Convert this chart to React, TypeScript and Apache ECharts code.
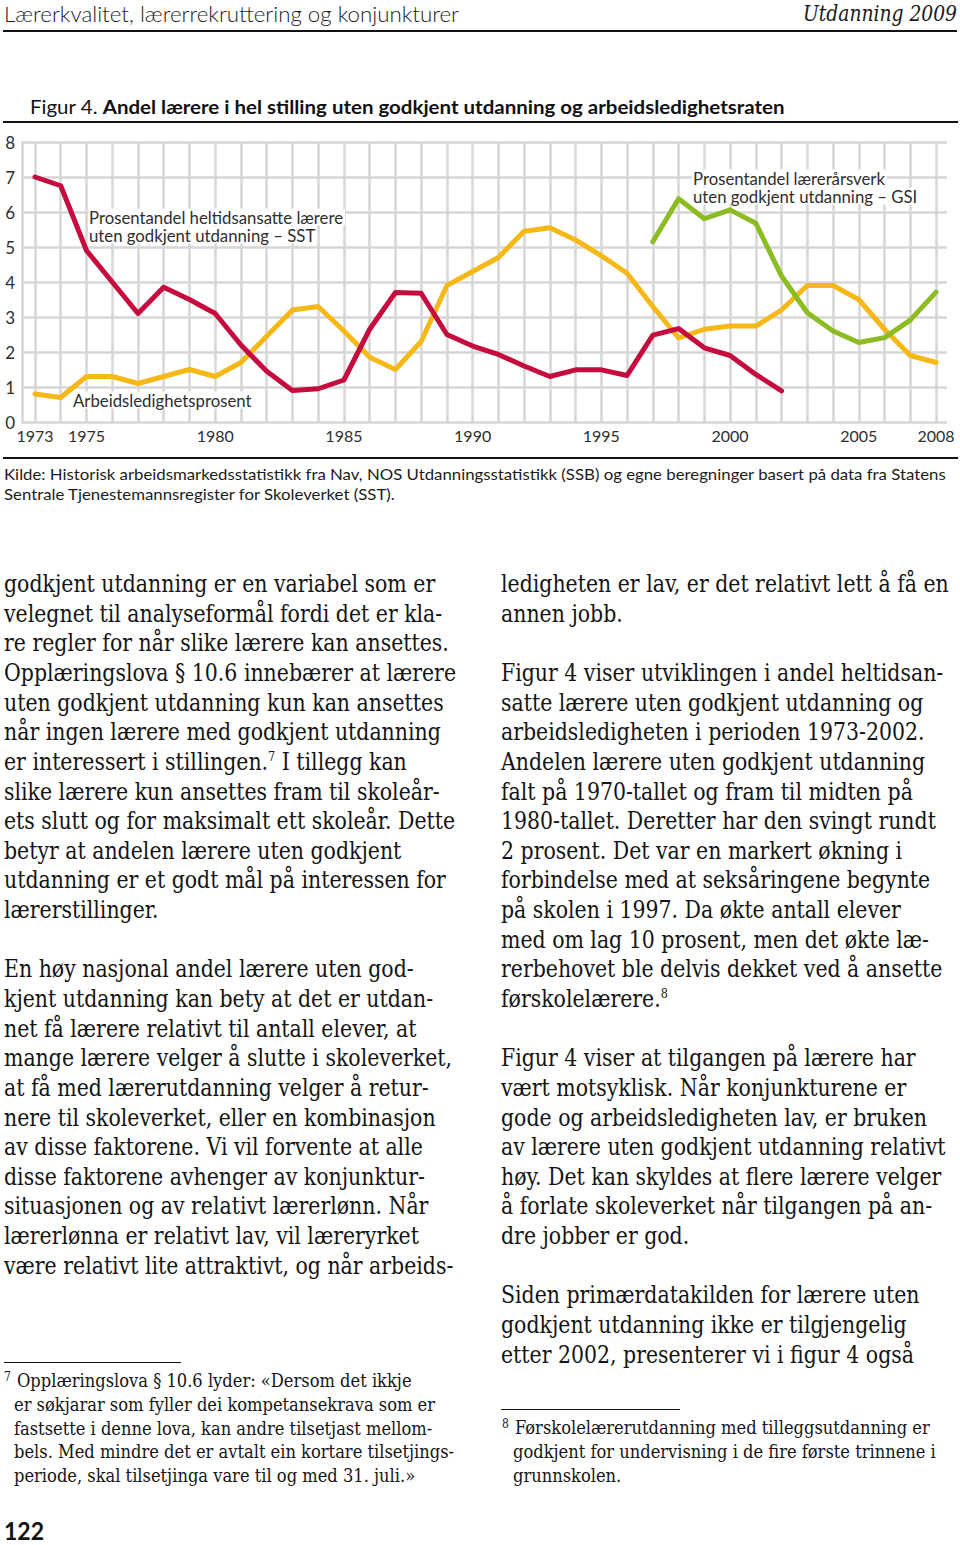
import React, { useEffect, useRef } from "react";
import * as echarts from "echarts";

// ---------- chart data ----------
const sstYears = [1973, 1974, 1975, 1976, 1977, 1978, 1979, 1980, 1981, 1982, 1983, 1984, 1985, 1986, 1987, 1988, 1989, 1990, 1991, 1992, 1993, 1994, 1995, 1996, 1997, 1998, 1999, 2000, 2001, 2002];
const sstValues = [7.0, 6.75, 4.9, 4.0, 3.1, 3.85, 3.5, 3.1, 2.2, 1.45, 0.9, 0.95, 1.2, 2.65, 3.7, 3.68, 2.5, 2.17, 1.93, 1.6, 1.3, 1.49, 1.49, 1.33, 2.48, 2.67, 2.12, 1.9, 1.36, 0.89];

const unempYears = [1973, 1974, 1975, 1976, 1977, 1978, 1979, 1980, 1981, 1982, 1983, 1984, 1985, 1986, 1987, 1988, 1989, 1990, 1991, 1992, 1993, 1994, 1995, 1996, 1997, 1998, 1999, 2000, 2001, 2002, 2003, 2004, 2005, 2006, 2007, 2008];
const unempValues = [0.8, 0.7, 1.3, 1.3, 1.1, 1.3, 1.5, 1.3, 1.7, 2.45, 3.2, 3.3, 2.6, 1.85, 1.5, 2.3, 3.9, 4.3, 4.7, 5.45, 5.55, 5.2, 4.75, 4.25, 3.3, 2.4, 2.65, 2.74, 2.74, 3.2, 3.9, 3.9, 3.5, 2.65, 1.9, 1.7];

const gsiYears = [1997, 1998, 1999, 2000, 2001, 2002, 2003, 2004, 2005, 2006, 2007, 2008];
const gsiValues = [5.15, 6.38, 5.81, 6.06, 5.68, 4.17, 3.12, 2.6, 2.27, 2.41, 2.91, 3.71];

const xTickLabels = [1973, 1975, 1980, 1985, 1990, 1995, 2000, 2005, 2008];
const xMin = 1973;
const xMax = 2008;
const yMin = 0;
const yMax = 8;
const yStep = 1;

const sstLabel = ["Prosentandel heltidsansatte lærere", "uten godkjent utdanning – SST"];
const unempLabel = ["Arbeidsledighetsprosent"];
const gsiLabel = ["Prosentandel lærerårsverk", "uten godkjent utdanning – GSI"];

// ---------- page text ----------
const headerLeft = "Lærerkvalitet, lærerrekruttering og konjunkturer";
const headerRight = "Utdanning 2009";
const figPrefix = "Figur 4. ";
const figTitle = "Andel lærere i hel stilling uten godkjent utdanning og arbeidsledighetsraten";
const sourceLines = [
  "Kilde: Historisk arbeidsmarkedsstatistikk fra Nav, NOS Utdanningsstatistikk (SSB) og egne beregninger basert på data fra Statens",
  "Sentrale Tjenestemannsregister for Skoleverket (SST).",
];

const leftCol = [
  "godkjent utdanning er en variabel som er",
  "velegnet til analyseformål fordi det er kla-",
  "re regler for når slike lærere kan ansettes.",
  "Opplæringslova § 10.6 innebærer at lærere",
  "uten godkjent utdanning kun kan ansettes",
  "når ingen lærere med godkjent utdanning",
  "er interessert i stillingen.^7 I tillegg kan",
  "slike lærere kun ansettes fram til skoleår-",
  "ets slutt og for maksimalt ett skoleår. Dette",
  "betyr at andelen lærere uten godkjent",
  "utdanning er et godt mål på interessen for",
  "lærerstillinger.",
  "",
  "En høy nasjonal andel lærere uten god-",
  "kjent utdanning kan bety at det er utdan-",
  "net få lærere relativt til antall elever, at",
  "mange lærere velger å slutte i skoleverket,",
  "at få med lærerutdanning velger å retur-",
  "nere til skoleverket, eller en kombinasjon",
  "av disse faktorene. Vi vil forvente at alle",
  "disse faktorene avhenger av konjunktur-",
  "situasjonen og av relativt lærerlønn. Når",
  "lærerlønna er relativt lav, vil læreryrket",
  "være relativt lite attraktivt, og når arbeids-",
];

const rightCol = [
  "ledigheten er lav, er det relativt lett å få en",
  "annen jobb.",
  "",
  "Figur 4 viser utviklingen i andel heltidsan-",
  "satte lærere uten godkjent utdanning og",
  "arbeidsledigheten i perioden 1973-2002.",
  "Andelen lærere uten godkjent utdanning",
  "falt på 1970-tallet og fram til midten på",
  "1980-tallet. Deretter har den svingt rundt",
  "2 prosent. Det var en markert økning i",
  "forbindelse med at seksåringene begynte",
  "på skolen i 1997. Da økte antall elever",
  "med om lag 10 prosent, men det økte læ-",
  "rerbehovet ble delvis dekket ved å ansette",
  "førskolelærere.^8",
  "",
  "Figur 4 viser at tilgangen på lærere har",
  "vært motsyklisk. Når konjunkturene er",
  "gode og arbeidsledigheten lav, er bruken",
  "av lærere uten godkjent utdanning relativt",
  "høy. Det kan skyldes at flere lærere velger",
  "å forlate skoleverket når tilgangen på an-",
  "dre jobber er god.",
  "",
  "Siden primærdatakilden for lærere uten",
  "godkjent utdanning ikke er tilgjengelig",
  "etter 2002, presenterer vi i figur 4 også",
];

const footnote7 = [
  "Opplæringslova § 10.6 lyder: «Dersom det ikkje",
  "er søkjarar som fyller dei kompetansekrava som er",
  "fastsette i denne lova, kan andre tilsetjast mellom-",
  "bels. Med mindre det er avtalt ein kortare tilsetjings-",
  "periode, skal tilsetjinga vare til og med 31. juli.»",
];
const footnote8 = [
  "Førskolelærerutdanning med tilleggsutdanning er",
  "godkjent for undervisning i de fire første trinnene i",
  "grunnskolen.",
];
const pageNumber = "122";

// ---------- helpers ----------
const SERIF = '"DejaVu Serif Condensed", "DejaVu Serif", serif';
const SANS = 'Lato, "Noto Sans", sans-serif';

let _canvas: HTMLCanvasElement | null = null;
function textWidth(text: string, font: string): number {
  if (!_canvas) _canvas = document.createElement("canvas");
  const ctx = _canvas.getContext("2d")!;
  ctx.font = font;
  return ctx.measureText(text).width;
}
function fontStr(size: number, family: string, weight = 400, italic = false) {
  return `${italic ? "italic " : ""}${weight} ${size}px ${family}`;
}

function renderRuns(line: string) {
  const parts = line.split(/\^(\d)/);
  return parts.map((p, i) =>
    i % 2 === 1 ? (
      <span key={i} style={{ fontSize: "0.55em", position: "relative", top: "-0.7em" }}>
        {p}
      </span>
    ) : (
      <React.Fragment key={i}>{p}</React.Fragment>
    )
  );
}

function TextLine(props: {
  children: React.ReactNode;
  x: number;
  cy: number;
  size: number;
  family: string;
  lh: number;
  scale: number;
  weight?: number;
  italic?: boolean;
  color?: string;
}) {
  const { x, cy, size, family, lh, scale, weight = 400, italic = false, color = "#141414" } = props;
  return (
    <div
      style={{
        position: "absolute",
        left: x,
        top: cy - lh / 2,
        height: lh,
        lineHeight: lh + "px",
        fontSize: size,
        fontFamily: family,
        fontWeight: weight,
        fontStyle: italic ? "italic" : "normal",
        whiteSpace: "pre",
        transform: `scaleX(${scale})`,
        transformOrigin: "0 50%",
        color,
      }}
    >
      {props.children}
    </div>
  );
}

// ---------- chart ----------
function Chart() {
  const ref = useRef<HTMLDivElement>(null);
  useEffect(() => {
    const chart = echarts.init(ref.current!, null, { renderer: "svg" });
    const gridColor = "#d6d6d6";
    const txt = "#2e2e2e";
    const annSize = Math.min(17, 16 * (254 / textWidth(sstLabel[0], fontStr(16, SANS))));
    const annFont = `${annSize.toFixed(2)}px ${SANS}`;
    const ann = (text: string, x: number, y: number) => ({
      type: "text",
      x,
      y,
      z: 1,
      silent: true,
      style: {
        text,
        font: annFont,
        fill: txt,
        textAlign: "left",
        textVerticalAlign: "middle",
        align: "left",
        verticalAlign: "middle",
        backgroundColor: "#ffffff",
        padding: [0, 2, 0, 1],
      },
    });
    chart.setOption({
      animation: false,
      grid: [
        { left: 22, right: 13, top: 12, bottom: 38 },
        { left: 35, right: 24, top: 12, bottom: 38 },
      ],
      xAxis: [
        { gridIndex: 0, type: "value", min: 0, max: 1, show: false },
        {
          gridIndex: 1,
          type: "value",
          min: xMin,
          max: xMax,
          interval: 1,
          axisLine: { show: false },
          axisTick: { show: false },
          splitLine: { show: true, lineStyle: { color: gridColor, width: 2.5 } },
          axisLabel: {
            formatter: (v: number) => (xTickLabels.includes(v) ? String(v) : ""),
            color: txt,
            fontSize: 16,
            fontFamily: SANS,
            margin: 5,
            showMinLabel: true,
            showMaxLabel: true,
          },
        },
      ],
      yAxis: [
        {
          gridIndex: 0,
          type: "value",
          min: yMin,
          max: yMax,
          interval: yStep,
          axisLine: { show: true, onZero: false, lineStyle: { color: gridColor, width: 2.5 } },
          axisTick: { show: false },
          splitLine: { show: true, lineStyle: { color: gridColor, width: 2.5 } },
          axisLabel: { color: txt, fontSize: 17, fontFamily: SANS, margin: 7 },
        },
        { gridIndex: 1, type: "value", min: yMin, max: yMax, show: false },
      ],
      series: [
        {
          type: "line",
          name: "Arbeidsledighetsprosent",
          xAxisIndex: 1,
          yAxisIndex: 1,
          data: unempYears.map((y, i) => [y, unempValues[i]]),
          symbol: "none",
          lineStyle: { color: "#f5b816", width: 5, join: "round", cap: "round" },
          itemStyle: { color: "#f5b816" },
          z: 3,
        },
        {
          type: "line",
          name: "SST",
          xAxisIndex: 1,
          yAxisIndex: 1,
          data: sstYears.map((y, i) => [y, sstValues[i]]),
          symbol: "none",
          lineStyle: { color: "#c60c3f", width: 5, join: "round", cap: "round" },
          itemStyle: { color: "#c60c3f" },
          z: 4,
        },
        {
          type: "line",
          name: "GSI",
          xAxisIndex: 1,
          yAxisIndex: 1,
          data: gsiYears.map((y, i) => [y, gsiValues[i]]),
          symbol: "none",
          lineStyle: { color: "#8cbb22", width: 5, join: "round", cap: "round" },
          itemStyle: { color: "#8cbb22" },
          z: 5,
        },
      ],
      graphic: [
        ann(sstLabel[0], 88, 87),
        ann(sstLabel[1], 88, 105),
        ann(unempLabel[0], 72, 270),
        ann(gsiLabel[0], 692, 48),
        ann(gsiLabel[1], 692, 66),
      ],
    });
    return () => chart.dispose();
  }, []);
  return <div ref={ref} style={{ position: "absolute", left: 0, top: 130, width: 960, height: 330 }} />;
}

// ---------- page ----------
export default function App() {
  const bodySize = 24;
  const bodyLH = 29.63;
  const bodyScale = 452 / textWidth(leftCol[3], fontStr(bodySize, SERIF));
  const fnSize = 19;
  const fnLH = 23.7;
  const fnScale = 440 / textWidth(footnote7[3], fontStr(fnSize, SERIF));
  const headScale = 455 / textWidth(headerLeft, fontStr(21, SANS, 300));
  const headRScale = 154 / textWidth(headerRight, fontStr(22, SERIF, 400, true));
  const titleW = textWidth(figPrefix, fontStr(19, SANS, 400)) + textWidth(figTitle, fontStr(19, SANS, 700));
  const titleScale = 755 / titleW;
  const srcScale = 942 / textWidth(sourceLines[0], fontStr(16, SANS));
  const pnScale = 40 / textWidth(pageNumber, fontStr(25, SANS, 700));

  return (
    <div style={{ position: "absolute", left: 0, top: 0, width: 960, height: 1545, overflow: "hidden", background: "#fff" }}>
      {/* header */}
      <TextLine x={4} cy={14} size={21} family={SANS} lh={26} scale={headScale} weight={300} color="#1a1a1a">
        {headerLeft}
      </TextLine>
      <TextLine x={803} cy={14} size={22} family={SERIF} lh={26} scale={headRScale} italic color="#1a1a1a">
        {headerRight}
      </TextLine>
      <div style={{ position: "absolute", left: 3, top: 30, width: 954, height: 2.4, background: "#111" }} />

      {/* figure title */}
      <TextLine x={30} cy={107} size={19} family={SANS} lh={24} scale={titleScale} color="#111">
        <span style={{ fontWeight: 400 }}>{figPrefix}</span>
        <span style={{ fontWeight: 700 }}>{figTitle}</span>
      </TextLine>
      <div style={{ position: "absolute", left: 3, top: 121, width: 955, height: 1.6, background: "#111" }} />

      <Chart />

      {/* source */}
      <div style={{ position: "absolute", left: 3, top: 457, width: 955, height: 1.8, background: "#111" }} />
      {sourceLines.map((l, i) => (
        <TextLine key={i} x={4} cy={474 + i * 20} size={16} family={SANS} lh={20} scale={srcScale} color="#1c1c1c">
          {l}
        </TextLine>
      ))}

      {/* body columns */}
      {leftCol.map((l, i) =>
        l ? (
          <TextLine key={"l" + i} x={4} cy={585 + i * bodyLH} size={bodySize} family={SERIF} lh={bodyLH} scale={bodyScale}>
            {renderRuns(l)}
          </TextLine>
        ) : null
      )}
      {rightCol.map((l, i) =>
        l ? (
          <TextLine key={"r" + i} x={501} cy={585 + i * bodyLH} size={bodySize} family={SERIF} lh={bodyLH} scale={bodyScale}>
            {renderRuns(l)}
          </TextLine>
        ) : null
      )}

      {/* footnotes */}
      <div style={{ position: "absolute", left: 4, top: 1362, width: 177, height: 1.3, background: "#111" }} />
      <TextLine x={4} cy={1377} size={12} family={SERIF} lh={14} scale={1}>
        7
      </TextLine>
      {footnote7.map((l, i) => (
        <TextLine key={"f7" + i} x={i === 0 ? 17 : 14} cy={1381 + i * fnLH} size={fnSize} family={SERIF} lh={fnLH} scale={fnScale}>
          {l}
        </TextLine>
      ))}
      <div style={{ position: "absolute", left: 501, top: 1409, width: 179, height: 1.3, background: "#111" }} />
      <TextLine x={502} cy={1424} size={12} family={SERIF} lh={14} scale={1}>
        8
      </TextLine>
      {footnote8.map((l, i) => (
        <TextLine key={"f8" + i} x={i === 0 ? 515 : 513} cy={1428 + i * fnLH} size={fnSize} family={SERIF} lh={fnLH} scale={fnScale}>
          {l}
        </TextLine>
      ))}

      {/* page number */}
      <TextLine x={4} cy={1530} size={25} family={SANS} lh={20} scale={pnScale} weight={700} color="#111">
        {pageNumber}
      </TextLine>
    </div>
  );
}
